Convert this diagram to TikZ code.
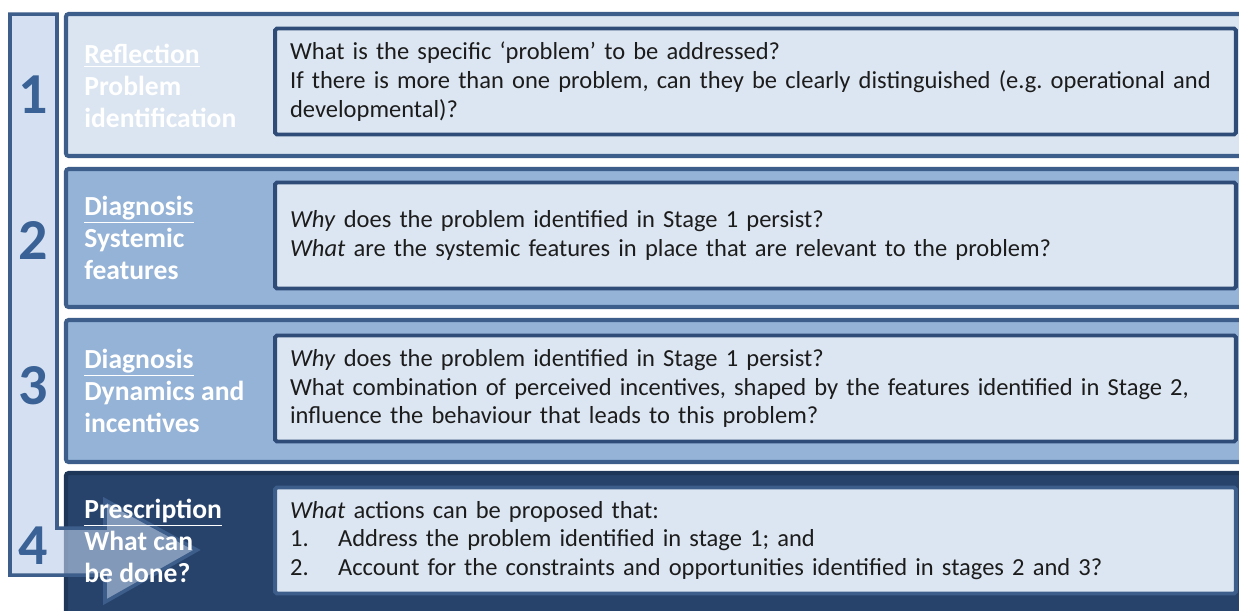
\documentclass[tikz,border=0pt]{standalone}
\usepackage{fontspec}
\setmainfont{Carlito}
\usetikzlibrary{positioning}
\definecolor{lineblue}{HTML}{3D5E8B}
\definecolor{paleblue}{HTML}{DBE5F1}
\definecolor{midblue}{HTML}{95B3D7}
\definecolor{navy}{HTML}{27436B}
\definecolor{navyline}{HTML}{1E3657}
\definecolor{boxline}{HTML}{2E4C77}
\definecolor{boxfill}{HTML}{DCE6F2}
\definecolor{numblue}{HTML}{3A6296}
\definecolor{arrowfill}{HTML}{BCCFEA}
\definecolor{bodytext}{HTML}{1C1C1C}
\frenchspacing

\begin{document}
\begin{tikzpicture}[x=0.02cm, y=-0.02cm,
    panel/.style={draw=lineblue, line width=2.3pt, rounded corners=1.5pt},
    qbox/.style={draw=boxline, fill=boxfill, line width=2.2pt, rounded corners=1pt,
      minimum width=19.22cm, minimum height=2.12cm, text width=18.62cm,
      inner xsep=0.3cm, align=left, text=bodytext,
      font=\fontsize{13.95}{16.3}\selectfont},
    lbl/.style={anchor=west, align=left, text=white, inner sep=0pt,
      font=\fontsize{15.7}{18.3}\selectfont\bfseries},
    num/.style={text=numblue, font=\fontsize{33}{33}\selectfont\bfseries}]
      \clip (0,0) rectangle (1239,610);

      % stage panels
      \draw[panel, fill=paleblue] (66,14) rectangle (1252,156);
      \draw[panel, fill=midblue] (66,169) rectangle (1252,307);
      \draw[panel, fill=midblue] (66,320) rectangle (1252,462);
      \draw[panel, fill=navy, draw=navyline] (66,473) rectangle (1252,625);

      % the bent arrow on the left
      \draw[fill=arrowfill, fill opacity=0.62, draw=lineblue, line width=2pt, line join=miter]
        (10,14) -- (57,14) -- (57,528) -- (105,528) -- (105,500) -- (197,550)
        -- (105,602) -- (105,575) -- (10,575) -- cycle;

      \node[num] (n1) at (33,95) {1};
      \node[num] (n2) at (33,240) {2};
      \node[num] (n3) at (33,386) {3};
      \node[num] (n4) at (33,546) {4};

      \node[lbl] (l1) at (84,86) {\underline{Reflection}\\Problem\\identification};
      \node[lbl] (l2) at (84,238) {\underline{Diagnosis}\\Systemic\\features};
      \node[lbl] (l3) at (84,391) {\underline{Diagnosis}\\Dynamics and\\incentives};
      \node[lbl] (l4) at (84,541) {\underline{Prescription}\\What can\\be done?};

      \node[qbox] (q1) at (755.5,81.5) {What is the specific ‘problem’ to be addressed?\\
        If there is more than one problem, can they be clearly distinguished (e.g. operational and\\
        developmental)?};
      \node[qbox] (q2) at (755.5,235.5) {\textit{Why} does the problem identified in Stage 1 persist?\\
        \textit{What} are the systemic features in place that are relevant to the problem?};
      \node[qbox] (q3) at (755.5,388.5) {\textit{Why} does the problem identified in Stage 1 persist?\\
        What combination of perceived incentives, shaped by the features identified in Stage 2,\\
        influence the behaviour that leads to this problem?};
      \node[qbox, draw=lineblue] (q4) at (755.5,540.5) {\textit{What} actions can be proposed that:\\
        1.\hspace{1.2em}Address the problem identified in stage 1; and\\
        2.\hspace{1.2em}Account for the constraints and opportunities identified in stages 2 and 3?};
    \end{tikzpicture}
\end{document}
